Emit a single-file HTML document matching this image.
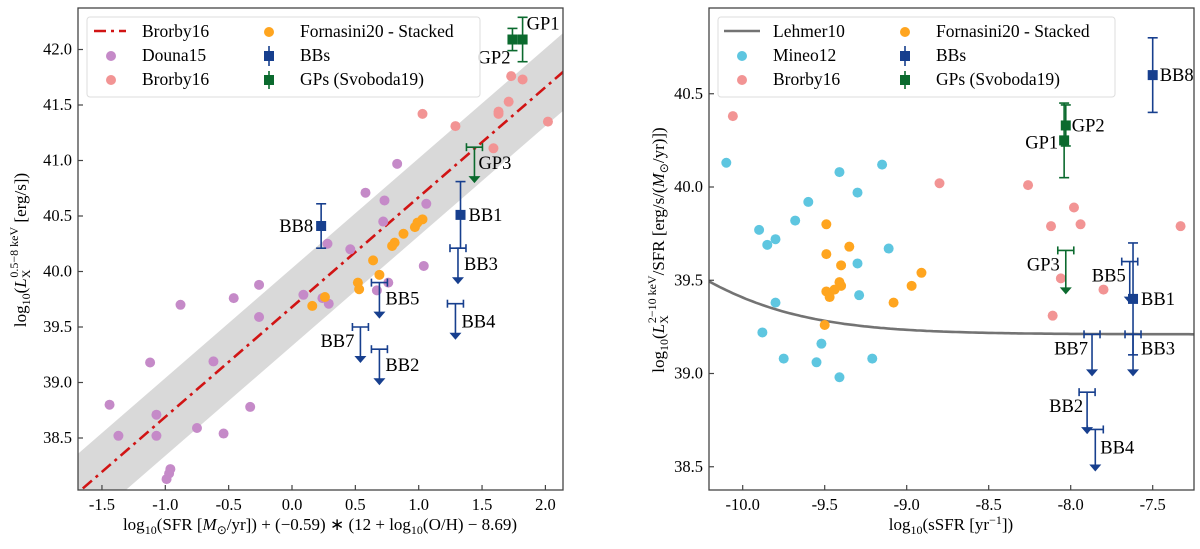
<!DOCTYPE html>
<html><head><meta charset="utf-8"><style>
html,body{margin:0;padding:0;background:#fff;}
svg{display:block;font-family:"Liberation Serif",serif;}
</style></head><body>
<svg id="fig" width="1200" height="549" viewBox="0 0 1200 549">
<g id="L"></g>
<g id="R"></g>
</svg>
<script>
// ---------- LEFT PANEL DATA ----------
const douna15X=[0.83,0.58,0.73,1.06,0.72,0.28,0.46,1.04,0.76,0.67,-0.26,-0.46,-0.88,0.09,0.24,0.29,-0.26,-1.12,-0.62,-1.44,-1.07,-1.37,-1.07,-0.75,-0.54,-0.33,-0.96,-0.97,-0.99];
const douna15Y=[40.97,40.71,40.64,40.61,40.45,40.25,40.20,40.05,39.90,39.83,39.88,39.76,39.70,39.79,39.76,39.71,39.59,39.18,39.19,38.80,38.71,38.52,38.52,38.59,38.54,38.78,38.22,38.18,38.13];
const brorbyLX=[1.73,1.82,1.71,1.63,1.63,1.03,1.29,2.02,1.59];
const brorbyLY=[41.76,41.73,41.53,41.44,41.42,41.42,41.31,41.35,41.11];
const fornLX=[1.03,0.99,0.97,0.88,0.81,0.79,0.64,0.69,0.52,0.53,0.26,0.16];
const fornLY=[40.47,40.44,40.40,40.34,40.26,40.23,40.10,39.97,39.90,39.84,39.77,39.69];
const bbLNames=["BB8","BB1"];const bbLX=[0.23,1.33];const bbLY=[40.41,40.51];const bbLErr=[0.2,0.3];
const ulLNames=["BB3","BB5","BB4","BB7","BB2"];const ulLX=[1.31,0.69,1.29,0.54,0.69];const ulLY=[40.21,39.90,39.71,39.50,39.30];
const gpLNames=["GP1","GP2"];const gpLX=[1.82,1.74];const gpLY=[42.09,42.09];const gpLErr=[0.2,0.1];
const gpULX=[1.44];const gpULY=[41.12];
const relSlope=0.99, relIcpt=39.68, relScatter=0.35;
const lxTicks=[-1.5,-1.0,-0.5,0.0,0.5,1.0,1.5,2.0];
const lyTicks=[38.5,39.0,39.5,40.0,40.5,41.0,41.5,42.0];
// ---------- RIGHT PANEL DATA ----------
const mineoX=[-10.10,-9.41,-9.15,-9.30,-9.60,-9.68,-9.90,-9.80,-9.85,-9.11,-9.30,-9.29,-9.80,-9.88,-9.52,-9.75,-9.55,-9.21,-9.41];
const mineoY=[40.13,40.08,40.12,39.97,39.92,39.82,39.77,39.72,39.69,39.67,39.59,39.42,39.38,39.22,39.16,39.08,39.06,39.08,38.98];
const brorbyRX=[-10.06,-8.80,-8.26,-7.98,-8.12,-7.94,-7.33,-8.06,-7.80,-8.11];
const brorbyRY=[40.38,40.02,40.01,39.89,39.79,39.80,39.79,39.51,39.45,39.31];
const fornRX=[-9.49,-9.49,-9.35,-9.40,-9.41,-9.40,-9.49,-9.44,-9.47,-8.97,-8.91,-9.08,-9.50];
const fornRY=[39.80,39.64,39.68,39.58,39.49,39.47,39.44,39.45,39.41,39.47,39.54,39.38,39.26];
const bbRNames=["BB8","BB1"];const bbRX=[-7.50,-7.62];const bbRY=[40.60,39.40];const bbRErr=[0.2,0.3];
const ulRNames=["BB5","BB7","BB3","BB2","BB4"];const ulRX=[-7.64,-7.87,-7.62,-7.90,-7.85];const ulRY=[39.60,39.21,39.21,38.90,38.70];
const gpRNames=["GP2","GP1"];const gpRX=[-8.03,-8.04];const gpRY=[40.33,40.25];const gpRErr=[0.11,0.2];
const gpULRX=[-8.03];const gpULRY=[39.66];
const lehmerLogA=28.97, lehmerLogB=39.21;
const rxTicks=[-10.0,-9.5,-9.0,-8.5,-8.0,-7.5];
const ryTicks=[38.5,39.0,39.5,40.0,40.5];

const NS="http://www.w3.org/2000/svg";
function mk(parent,tag,attrs,name,text){
  const e=document.createElementNS(NS,tag);
  for(const k in attrs)e.setAttribute(k,attrs[k]);
  
  
  if(text!==undefined)e.textContent=text;
  parent.appendChild(e);return e;
}
const C={douna:"#c58ac8",brorby:"#f29494",forn:"#ffa51f",mineo:"#5ec6e0",bb:"#173f8e",gp:"#0b6a2e",red:"#d11414",band:"#d9d9d9",leh:"#737373"};
const TF=16.5, LF=17.5, PF=18.5, AF=17;

function axes(g,x0,x1,y0,y1,xs,ys,xt,yt,fmtx,fmty,clipId){
  const defs=mk(g,'defs',{},'defs');
  const cp=mk(defs,'clipPath',{id:clipId},'clip');
  mk(cp,'rect',{x:x0,y:y0,width:x1-x0,height:y1-y0},'clip-rect');
  xt.forEach(v=>{const px=xs(v);
    mk(g,'line',{x1:px,x2:px,y1:y1,y2:y1-5,stroke:"#444","stroke-width":1.2},'x-tick');
    mk(g,'text',{x:px,y:y1+20,"text-anchor":"middle","font-size":TF},'x-tick-label',fmtx(v));});
  yt.forEach(v=>{const py=ys(v);
    mk(g,'line',{x1:x0,x2:x0+5,y1:py,y2:py,stroke:"#444","stroke-width":1.2},'y-tick');
    mk(g,'text',{x:x0-6,y:py+5,"text-anchor":"end","font-size":TF},'y-tick-label',fmty(v));});
}
function frame(g,x0,x1,y0,y1){mk(g,'rect',{x:x0,y:y0,width:x1-x0,height:y1-y0,fill:"none",stroke:"#444","stroke-width":1.3},'plot-frame');}
function dots(g,X,Y,xs,ys,col,name){X.forEach((x,i)=>mk(g,'circle',{cx:xs(x),cy:ys(Y[i]),r:5,fill:col},name));}
function errpt(g,x,y,e,xs,ys,col,name){
  const px=xs(x),py=ys(y),t=ys(y+e),b=ys(y-e);
  mk(g,'line',{x1:px,x2:px,y1:t,y2:b,stroke:col,"stroke-width":1.6},name+'-errorbar');
  mk(g,'line',{x1:px-5,x2:px+5,y1:t,y2:t,stroke:col,"stroke-width":1.6},name+'-cap');
  mk(g,'line',{x1:px-5,x2:px+5,y1:b,y2:b,stroke:col,"stroke-width":1.6},name+'-cap');
  mk(g,'rect',{x:px-5,y:py-5,width:10,height:10,fill:col},name+'-marker');
}
function ul(g,x,y,xs,ys,col,name,dy){
  const px=xs(x),py=ys(y),tip=ys(y)+(dy||36);
  mk(g,'line',{x1:px-8,x2:px+8,y1:py,y2:py,stroke:col,"stroke-width":1.6},name+'-xerr');
  mk(g,'line',{x1:px-8,x2:px-8,y1:py-4,y2:py+4,stroke:col,"stroke-width":1.6},name+'-cap');
  mk(g,'line',{x1:px+8,x2:px+8,y1:py-4,y2:py+4,stroke:col,"stroke-width":1.6},name+'-cap');
  mk(g,'line',{x1:px,x2:px,y1:py,y2:tip-6,stroke:col,"stroke-width":1.6},name+'-arrow-shaft');
  mk(g,'path',{d:`M${px-6},${tip-7}L${px+6},${tip-7}L${px},${tip}Z`,fill:col},name+'-arrow-head');
}
function lbl(g,x,y,t,anchor){mk(g,'text',{x:x,y:y,"font-size":PF,"text-anchor":anchor||"start"},'point-label-'+t.toLowerCase(),t);}

// ================= LEFT =================
(function(){
  const g=document.getElementById('L');
  const x0=78,x1=563,y0=8,y1=490;
  const xs=v=>292+v*126.7, ys=v=>271.5-(v-40)*111;
  const clip=mk(g,'g',{"clip-path":"url(#clipL)"},'plot-area');
  axes(g,x0,x1,y0,y1,xs,ys,lxTicks,lyTicks,v=>v.toFixed(1),v=>v.toFixed(1),'clipL');
  const xa=-1.8,xb=2.3;
  const f=x=>relIcpt+relSlope*x;
  mk(clip,'path',{d:`M${xs(xa)},${ys(f(xa)+relScatter)}L${xs(xb)},${ys(f(xb)+relScatter)}L${xs(xb)},${ys(f(xb)-relScatter)}L${xs(xa)},${ys(f(xa)-relScatter)}Z`,fill:C.band},'scatter-band');
  mk(clip,'line',{x1:xs(xa),y1:ys(f(xa)),x2:xs(xb),y2:ys(f(xb)),stroke:C.red,"stroke-width":2.6,"stroke-dasharray":"12,5,3,5"},'brorby16-relation-line');
  dots(clip,douna15X,douna15Y,xs,ys,C.douna,'douna15-point');
  dots(clip,brorbyLX,brorbyLY,xs,ys,C.brorby,'brorby16-point');
  dots(clip,fornLX,fornLY,xs,ys,C.forn,'fornasini20-point');
  gpLX.forEach((x,i)=>errpt(clip,x,gpLY[i],gpLErr[i],xs,ys,C.gp,gpLNames[i].toLowerCase()));
  lbl(g,xs(gpLX[0])+4,ys(gpLY[0])-10,"GP1");
  lbl(g,xs(gpLX[1])-2,ys(gpLY[1])+24,"GP2","end");
  ul(clip,gpULX[0],gpULY[0],xs,ys,C.gp,'gp3');
  lbl(g,xs(gpULX[0])+4,ys(gpULY[0])+22,"GP3");
  bbLX.forEach((x,i)=>errpt(clip,x,bbLY[i],bbLErr[i],xs,ys,C.bb,bbLNames[i].toLowerCase()));
  lbl(g,xs(bbLX[0])-8,ys(bbLY[0])+6,"BB8","end");
  lbl(g,xs(bbLX[1])+8,ys(bbLY[1])+6,"BB1");
  const off=[[6,22],[6,22],[6,24],[-6,20],[6,22]];
  ulLX.forEach((x,i)=>{ul(clip,x,ulLY[i],xs,ys,C.bb,ulLNames[i].toLowerCase());
    lbl(g,xs(x)+off[i][0],ys(ulLY[i])+off[i][1],ulLNames[i],off[i][0]<0?"end":"start");});
  frame(g,x0,x1,y0,y1);
  const lg=mk(g,'g',{},'legend');
  mk(lg,'rect',{x:87,y:17,width:393,height:80,rx:3,fill:"#fff","fill-opacity":0.85,stroke:"#ddd"},'legend-box');
  mk(lg,'line',{x1:94,x2:126,y1:31,y2:31,stroke:C.red,"stroke-width":2.6,"stroke-dasharray":"12,5,3,5"},'legend-brorby16-line');
  mk(lg,'text',{x:142,y:37,"font-size":LF},'legend-label','Brorby16');
  mk(lg,'circle',{cx:111,cy:56,r:5,fill:C.douna},'legend-douna15-marker');
  mk(lg,'text',{x:142,y:61,"font-size":LF},'legend-label','Douna15');
  mk(lg,'circle',{cx:111,cy:80,r:5,fill:C.brorby},'legend-brorby16-marker');
  mk(lg,'text',{x:142,y:85,"font-size":LF},'legend-label','Brorby16');
  mk(lg,'circle',{cx:269,cy:32,r:5,fill:C.forn},'legend-fornasini-marker');
  mk(lg,'text',{x:300,y:37,"font-size":LF},'legend-label','Fornasini20 - Stacked');
  errpt(lg,269,0,0,v=>v,v=>56,C.bb,'legend-bbs');
  mk(lg,'line',{x1:269,x2:269,y1:46,y2:66,stroke:C.bb,"stroke-width":1.6},'legend-bbs-bar');
  mk(lg,'text',{x:300,y:61,"font-size":LF},'legend-label','BBs');
  errpt(lg,269,0,0,v=>v,v=>80,C.gp,'legend-gps');
  mk(lg,'line',{x1:269,x2:269,y1:71,y2:89,stroke:C.gp,"stroke-width":1.6},'legend-gps-bar');
  mk(lg,'text',{x:300,y:85,"font-size":LF},'legend-label','GPs (Svoboda19)');
  const yl=mk(g,'text',{transform:"translate(26,250) rotate(-90)","text-anchor":"middle","font-size":AF},'y-axis-title');
  yl.innerHTML='log<tspan font-size="12" dy="4">10</tspan><tspan dy="-4">(</tspan><tspan font-style="italic">L</tspan><tspan font-size="12" dy="4">X</tspan><tspan font-size="12" dy="-12" dx="-8">0.5−8 keV</tspan><tspan dy="8"> [erg/s])</tspan>';
  const xl=mk(g,'text',{x:320,y:530,"text-anchor":"middle","font-size":AF},'x-axis-title');
  xl.innerHTML='log<tspan font-size="12" dy="4">10</tspan><tspan dy="-4">(SFR [</tspan><tspan font-style="italic">M</tspan><tspan font-size="12" dy="4">⊙</tspan><tspan dy="-4">/yr]) + (−0.59) ∗ (12 + log</tspan><tspan font-size="12" dy="4">10</tspan><tspan dy="-4">(O/H) − 8.69)</tspan>';
})();

// ================= RIGHT =================
(function(){
  const g=document.getElementById('R');
  const x0=709,x1=1194,y0=8,y1=490;
  const xs=v=>742.7+(v+10)*164, ys=v=>187-(v-40)*186.5;
  const clip=mk(g,'g',{"clip-path":"url(#clipR)"},'plot-area');
  axes(g,x0,x1,y0,y1,xs,ys,rxTicks,ryTicks,v=>v.toFixed(1),v=>v.toFixed(1),'clipR');
  let d="";
  for(let s=-10.3;s<=-7.1;s+=0.02){const y=Math.log10(Math.pow(10,lehmerLogA-s)+Math.pow(10,lehmerLogB));d+=(d?"L":"M")+xs(s).toFixed(1)+","+ys(y).toFixed(1);}
  mk(clip,'path',{d:d,fill:"none",stroke:C.leh,"stroke-width":2.6},'lehmer10-curve');
  dots(clip,mineoX,mineoY,xs,ys,C.mineo,'mineo12-point');
  dots(clip,brorbyRX,brorbyRY,xs,ys,C.brorby,'brorby16-point');
  dots(clip,fornRX,fornRY,xs,ys,C.forn,'fornasini20-point');
  gpRX.forEach((x,i)=>errpt(clip,x,gpRY[i],gpRErr[i],xs,ys,C.gp,gpRNames[i].toLowerCase()));
  lbl(g,xs(gpRX[0])+6,ys(gpRY[0])+6,"GP2");
  lbl(g,xs(gpRX[1])-6,ys(gpRY[1])+8,"GP1","end");
  ul(clip,gpULRX[0],gpULRY[0],xs,ys,C.gp,'gp3',44);
  lbl(g,xs(gpULRX[0])-6,ys(gpULRY[0])+20,"GP3","end");
  ulRX.forEach((x,i)=>ul(clip,x,ulRY[i],xs,ys,C.bb,ulRNames[i].toLowerCase(),42));
  bbRX.forEach((x,i)=>errpt(clip,x,bbRY[i],bbRErr[i],xs,ys,C.bb,bbRNames[i].toLowerCase()));
  lbl(g,xs(bbRX[0])+7,ys(bbRY[0])+6,"BB8");
  lbl(g,xs(bbRX[1])+8,ys(bbRY[1])+6,"BB1");
  const off=[[-4,20,"end"],[-4,20,"end"],[8,20,"start"],[-4,20,"end"],[5,24,"start"]];
  ulRX.forEach((x,i)=>lbl(g,xs(x)+off[i][0],ys(ulRY[i])+off[i][1],ulRNames[i],off[i][2]));
  frame(g,x0,x1,y0,y1);
  const lg=mk(g,'g',{},'legend');
  mk(lg,'rect',{x:718,y:17,width:397,height:80,rx:3,fill:"#fff","fill-opacity":0.85,stroke:"#ddd"},'legend-box');
  mk(lg,'line',{x1:724,x2:760,y1:31,y2:31,stroke:C.leh,"stroke-width":2.6},'legend-lehmer10-line');
  mk(lg,'text',{x:773,y:37,"font-size":LF},'legend-label','Lehmer10');
  mk(lg,'circle',{cx:742,cy:56,r:5,fill:C.mineo},'legend-mineo12-marker');
  mk(lg,'text',{x:773,y:61,"font-size":LF},'legend-label','Mineo12');
  mk(lg,'circle',{cx:742,cy:80,r:5,fill:C.brorby},'legend-brorby16-marker');
  mk(lg,'text',{x:773,y:85,"font-size":LF},'legend-label','Brorby16');
  mk(lg,'circle',{cx:905,cy:32,r:5,fill:C.forn},'legend-fornasini-marker');
  mk(lg,'text',{x:936,y:37,"font-size":LF},'legend-label','Fornasini20 - Stacked');
  errpt(lg,905,0,0,v=>v,v=>56,C.bb,'legend-bbs');
  mk(lg,'line',{x1:905,x2:905,y1:46,y2:66,stroke:C.bb,"stroke-width":1.6},'legend-bbs-bar');
  mk(lg,'text',{x:936,y:61,"font-size":LF},'legend-label','BBs');
  errpt(lg,905,0,0,v=>v,v=>80,C.gp,'legend-gps');
  mk(lg,'line',{x1:905,x2:905,y1:71,y2:89,stroke:C.gp,"stroke-width":1.6},'legend-gps-bar');
  mk(lg,'text',{x:936,y:85,"font-size":LF},'legend-label','GPs (Svoboda19)');
  const yl=mk(g,'text',{transform:"translate(664,250) rotate(-90)","text-anchor":"middle","font-size":AF},'y-axis-title');
  yl.innerHTML='log<tspan font-size="12" dy="4">10</tspan><tspan dy="-4">(</tspan><tspan font-style="italic">L</tspan><tspan font-size="12" dy="4">X</tspan><tspan font-size="12" dy="-12" dx="-8">2−10 keV</tspan><tspan dy="8">/SFR [erg/s/(</tspan><tspan font-style="italic">M</tspan><tspan font-size="12" dy="4">⊙</tspan><tspan dy="-4">/yr)])</tspan>';
  const xl=mk(g,'text',{x:951,y:530,"text-anchor":"middle","font-size":AF},'x-axis-title');
  xl.innerHTML='log<tspan font-size="12" dy="4">10</tspan><tspan dy="-4">(sSFR [yr</tspan><tspan font-size="12" dy="-6">−1</tspan><tspan dy="6">])</tspan>';
})();
</script>
</body></html>
